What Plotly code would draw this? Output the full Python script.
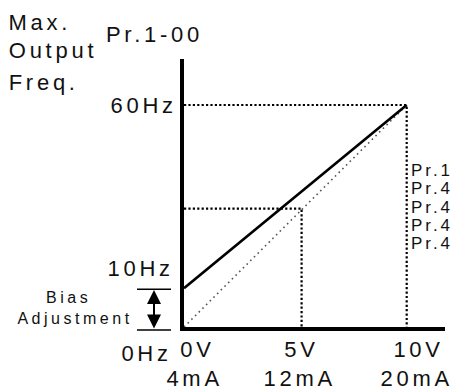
import plotly.graph_objects as go

# valores
TENSAO_V = [0, 5.28, 10]            # posições 0V / 5V / 10V no eixo x
ROTULOS_V = ["0V", "5V", "10V"]
ROTULOS_MA = ["4mA", "12mA", "20mA"]
FREQ_MAX = 60                       # Hz (Pr.1-00)
FREQ_BIAS = 10.5                    # Hz, início da reta com bias
FREQ_MEIO = 32                      # Hz, linha tracejada do meio
PARAMETROS = ["Pr.1", "Pr.4", "Pr.4", "Pr.4", "Pr.4"]

FONTE = "Liberation Sans"
COR_TEXTO = "#111111"

# tamanho da figura e margens (px)
W, H = 453, 391
L, R, T, B = 184, 8, 59, 64
PLOT_W = W - L - R
PLOT_H = H - T - B


def px(x, y):
    """Converte pixel da imagem para coordenadas 'paper'."""
    return (x - L) / PLOT_W, (H - B - y) / PLOT_H


def texto(fig, s, x, y, size=22, largura=None, altura=None):
    xp, yp = px(x, y)
    fig.add_annotation(
        text=s, x=xp, y=yp, xref="paper", yref="paper",
        xanchor="center", yanchor="middle", showarrow=False,
        width=largura, height=altura,
        font=dict(family=FONTE, size=size, color=COR_TEXTO),
    )


fig = go.Figure()

# reta sem bias (pontilhado cinza)
fig.add_trace(go.Scatter(
    x=[TENSAO_V[0], TENSAO_V[2]], y=[0, FREQ_MAX], mode="lines",
    line=dict(color="#555555", width=1.6, dash="1.6px,3.6px"),
))
# linhas auxiliares pontilhadas
fig.add_trace(go.Scatter(
    x=[TENSAO_V[0], TENSAO_V[2], TENSAO_V[2]], y=[FREQ_MAX, FREQ_MAX, 0],
    mode="lines", line=dict(color="black", width=2.2, dash="2.2px,2.2px"),
))
fig.add_trace(go.Scatter(
    x=[TENSAO_V[0], TENSAO_V[1], TENSAO_V[1]], y=[FREQ_MEIO, FREQ_MEIO, 0],
    mode="lines", line=dict(color="black", width=2.2, dash="2.2px,2.2px"),
))
# reta com bias
fig.add_trace(go.Scatter(
    x=[TENSAO_V[0], TENSAO_V[2]], y=[FREQ_BIAS, FREQ_MAX], mode="lines",
    line=dict(color="black", width=2.6),
))

# marcas do ajuste de bias
x0, _ = px(137, 0)
x1, _ = px(171, 0)
fig.add_shape(type="line", xref="paper", yref="y", x0=x0, x1=x1,
              y0=FREQ_BIAS - 0.3, y1=FREQ_BIAS - 0.3,
              line=dict(color="black", width=1.6))
fig.add_shape(type="line", xref="paper", yref="paper", x0=x0, x1=x1,
              y0=px(0, 330)[1], y1=px(0, 330)[1],
              line=dict(color="black", width=1.6))
xa, ya = px(154, 290)
fig.add_annotation(
    x=xa, y=ya, xref="paper", yref="paper", text="", showarrow=True,
    ax=0, ay=40, arrowside="end+start", arrowhead=2, arrowsize=1.4,
    arrowwidth=2, arrowcolor="black",
)

# textos
texto(fig, "Max.", 40, 22)
texto(fig, "Output", 52.5, 51)
texto(fig, "Freq.", 43, 82.5)
texto(fig, "Pr.1-00", 154, 35)
texto(fig, "60Hz", 143.5, 105)
texto(fig, "10Hz", 140, 268.5)
texto(fig, "0Hz", 146, 353.5)
texto(fig, "Bias", 68.5, 297.5, size=16)
texto(fig, "Adjustment", 75, 318, size=16)

for rv, rma, cx_v, cx_ma in zip(ROTULOS_V, ROTULOS_MA, [197.5, 301, 418], [195, 300, 416.5]):
    texto(fig, rv, cx_v, 349.5)
    texto(fig, rma, cx_ma, 378.5)

# parâmetros à direita
for i, p in enumerate(PARAMETROS):
    texto(fig, p, 431.5, 170 + i * 18.3, size=17, largura=44, altura=18)

fig.update_xaxes(range=[0, PLOT_W / 22.27], showline=True, linewidth=3.5,
                 linecolor="black", showgrid=False, zeroline=False,
                 showticklabels=False, ticks="")
fig.update_yaxes(range=[0, PLOT_H / 3.7], showline=True, linewidth=3.5,
                 linecolor="black", showgrid=False, zeroline=False,
                 showticklabels=False, ticks="")
fig.update_layout(
    width=W, height=H, autosize=False,
    margin=dict(l=L, r=R, t=T, b=B),
    showlegend=False,
    plot_bgcolor="white", paper_bgcolor="white",
)

# espaçamento entre letras como no desenho original, sem margem no body
estilo = ("var s=document.createElement('style');"
          "s.textContent='body{margin:0}"
          ".annotation-text{letter-spacing:0.17em}"
          ".annotation-text[style*=\"font-size: 16px\"]{letter-spacing:0.22em}';"
          "document.head.appendChild(s);")
fig.write_html("out.html", config={"displayModeBar": False}, post_script=estilo)
